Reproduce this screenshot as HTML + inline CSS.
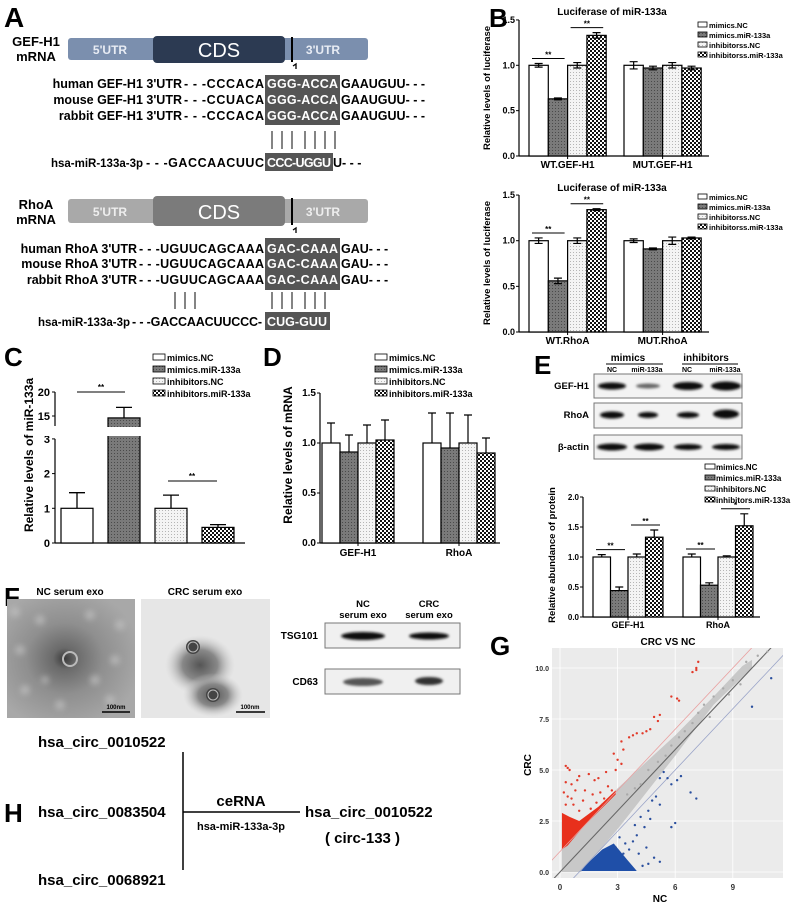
<!DOCTYPE html>
<html><head><meta charset="utf-8">
<style>
html,body{margin:0;padding:0;background:#fff;}
svg{display:block;font-family:"Liberation Sans",Arial,sans-serif;font-weight:bold;}
</style></head>
<body>
<svg id="fig" width="793" height="904" viewBox="0 0 793 904" xmlns="http://www.w3.org/2000/svg">
<defs>
  <pattern id="pDark" width="3" height="3" patternUnits="userSpaceOnUse"><rect width="3" height="3" fill="#7a7a7a"/><rect width="1" height="1" fill="#4a4a4a"/></pattern>
  <pattern id="pLight" width="3" height="3" patternUnits="userSpaceOnUse"><rect width="3" height="3" fill="#f4f4f4"/><rect width="1" height="1" fill="#b5b5b5"/></pattern>
  <pattern id="pCheck" width="4" height="4" patternUnits="userSpaceOnUse"><rect width="4" height="4" fill="#fff"/><rect width="2" height="2" fill="#111"/><rect x="2" y="2" width="2" height="2" fill="#111"/></pattern>
  <radialGradient id="gNC" cx="0.45" cy="0.5" r="0.6"><stop offset="0" stop-color="#3a3a3a"/><stop offset="0.15" stop-color="#6a6a6a"/><stop offset="0.5" stop-color="#8f8f8f"/><stop offset="1" stop-color="#a8a8a8"/></radialGradient>
  <radialGradient id="gBlob" cx="0.5" cy="0.5" r="0.5"><stop offset="0" stop-color="#555"/><stop offset="0.5" stop-color="#888"/><stop offset="1" stop-color="#ccc" stop-opacity="0"/></radialGradient>
  <filter id="blur1"><feGaussianBlur stdDeviation="1.2"/></filter>
  <filter id="blur3"><feGaussianBlur stdDeviation="3"/></filter>
  <clipPath id="clipG"><rect x="552" y="648" width="231" height="230"/></clipPath>
</defs>

<!-- ===== Panel A ===== -->
<g>
  <text x="4" y="27" font-size="28">A</text>
  <text x="36" y="46" font-size="13" text-anchor="middle">GEF-H1</text>
  <text x="36" y="61" font-size="13" text-anchor="middle">mRNA</text>
  <rect x="68" y="38" width="300" height="22" rx="3" fill="#7b8fae"/>
  <rect x="153" y="36" width="132" height="27" rx="4" fill="#2c3a52"/>
  <text x="110" y="54" font-size="12" fill="#e8ecf4" text-anchor="middle">5'UTR</text>
  <text x="219" y="57" font-size="20" font-weight="normal" fill="#fff" text-anchor="middle">CDS</text>
  <text x="323" y="54" font-size="12" fill="#e8ecf4" text-anchor="middle">3'UTR</text>
  <rect x="291" y="37" width="2" height="25" fill="#000"/>
  <path d="M293 66 l3 -2 l0 5" stroke="#000" stroke-width="1.3" fill="none"/>

  <rect x="265" y="75" width="75" height="50" fill="#555"/>
  <g font-size="12.5">
    <text x="182" y="88" text-anchor="end">human GEF-H1 3'UTR</text>
    <text x="184" y="88" textLength="80">- - -CCCACA</text>
    <text x="267" y="88" fill="#fff" textLength="71">GGG-ACCA</text>
    <text x="341" y="88">GAAUGUU- - -</text>
    <text x="182" y="104" text-anchor="end">mouse GEF-H1 3'UTR</text>
    <text x="184" y="104" textLength="80">- - -CCUACA</text>
    <text x="267" y="104" fill="#fff" textLength="71">GGG-ACCA</text>
    <text x="341" y="104">GAAUGUU- - -</text>
    <text x="182" y="120" text-anchor="end">rabbit GEF-H1 3'UTR</text>
    <text x="184" y="120" textLength="80">- - -CCCACA</text>
    <text x="267" y="120" fill="#fff" textLength="71">GGG-ACCA</text>
    <text x="341" y="120">GAAUGUU- - -</text>
  </g>
  <g stroke="#333" stroke-width="1.2">
    <line x1="272" y1="131" x2="272" y2="149"/><line x1="282" y1="131" x2="282" y2="149"/><line x1="292" y1="131" x2="292" y2="149"/>
    <line x1="305" y1="131" x2="305" y2="149"/><line x1="315" y1="131" x2="315" y2="149"/><line x1="325" y1="131" x2="325" y2="149"/><line x1="335" y1="131" x2="335" y2="149"/>
  </g>
  <rect x="265" y="153" width="68" height="18" fill="#555"/>
  <g font-size="12.5">
    <text x="143" y="167" text-anchor="end" font-size="11.5">hsa-miR-133a-3p</text>
    <text x="146" y="167" textLength="118">- - -GACCAACUUC</text>
    <text x="267" y="167" fill="#fff" textLength="64">CCC-UGGU</text>
    <text x="333" y="167">U- - -</text>
  </g>

  <text x="36" y="209" font-size="13" text-anchor="middle">RhoA</text>
  <text x="36" y="224" font-size="13" text-anchor="middle">mRNA</text>
  <rect x="68" y="199" width="300" height="24" rx="3" fill="#a9a9a9"/>
  <rect x="153" y="196" width="132" height="30" rx="4" fill="#7b7b7b"/>
  <text x="110" y="216" font-size="12" fill="#eee" text-anchor="middle">5'UTR</text>
  <text x="219" y="219" font-size="20" font-weight="normal" fill="#fff" text-anchor="middle">CDS</text>
  <text x="323" y="216" font-size="12" fill="#eee" text-anchor="middle">3'UTR</text>
  <rect x="291" y="198" width="2" height="27" fill="#000"/>
  <path d="M293 230 l3 -2 l0 5" stroke="#000" stroke-width="1.3" fill="none"/>

  <rect x="265" y="238" width="75" height="52" fill="#555"/>
  <g font-size="12.5">
    <text x="137" y="253" text-anchor="end">human RhoA 3'UTR</text>
    <text x="139" y="253" textLength="125">- - -UGUUCAGCAAA</text>
    <text x="267" y="253" fill="#fff" textLength="71">GAC-CAAA</text>
    <text x="341" y="253">GAU- - -</text>
    <text x="137" y="268" text-anchor="end">mouse RhoA 3'UTR</text>
    <text x="139" y="268" textLength="125">- - -UGUUCAGCAAA</text>
    <text x="267" y="268" fill="#fff" textLength="71">GAC-CAAA</text>
    <text x="341" y="268">GAU- - -</text>
    <text x="137" y="284" text-anchor="end">rabbit RhoA 3'UTR</text>
    <text x="139" y="284" textLength="125">- - -UGUUCAGCAAA</text>
    <text x="267" y="284" fill="#fff" textLength="71">GAC-CAAA</text>
    <text x="341" y="284">GAU- - -</text>
  </g>
  <g stroke="#333" stroke-width="1.2">
    <line x1="175" y1="292" x2="175" y2="309"/><line x1="185" y1="292" x2="185" y2="309"/><line x1="195" y1="292" x2="195" y2="309"/>
    <line x1="272" y1="292" x2="272" y2="309"/><line x1="282" y1="292" x2="282" y2="309"/><line x1="292" y1="292" x2="292" y2="309"/>
    <line x1="305" y1="292" x2="305" y2="309"/><line x1="315" y1="292" x2="315" y2="309"/><line x1="325" y1="292" x2="325" y2="309"/>
  </g>
  <rect x="265" y="312" width="65" height="18" fill="#555"/>
  <g font-size="12.5">
    <text x="130" y="326" text-anchor="end" font-size="11.5">hsa-miR-133a-3p</text>
    <text x="132" y="326" textLength="130">- - -GACCAACUUCCC-</text>
    <text x="267" y="326" fill="#fff" textLength="60">CUG-GUU</text>
  </g>
</g>

<!-- ===== Panel letters / titles ===== -->
<text x="489" y="27" font-size="26">B</text>
<text x="4" y="366" font-size="26">C</text>
<text x="263" y="366" font-size="26">D</text>
<text x="534" y="374" font-size="26">E</text>
<text x="4" y="606" font-size="26">F</text>
<text x="490" y="655" font-size="26">G</text>
<text x="4" y="822" font-size="26">H</text>

<text x="612" y="15" font-size="10" text-anchor="middle">Luciferase of miR-133a</text>
<text x="612" y="191" font-size="10" text-anchor="middle">Luciferase of miR-133a</text>
<text transform="translate(490,88) rotate(-90)" font-size="9.5" text-anchor="middle">Relative levels of luciferase</text>
<text transform="translate(490,263) rotate(-90)" font-size="9.5" text-anchor="middle">Relative levels of luciferase</text>
<text transform="translate(33,455) rotate(-90)" font-size="12" text-anchor="middle">Relative levels of miR-133a</text>
<text transform="translate(292,455) rotate(-90)" font-size="12" text-anchor="middle">Relative levels of mRNA</text>
<text transform="translate(555,555) rotate(-90)" font-size="9.5" text-anchor="middle">Relative abundance of protein</text>

<!-- Legends -->
<g font-size="7.5">
  <rect x="698" y="22" width="9" height="5" fill="#fff" stroke="#000" stroke-width="0.8"/><text x="709" y="28">mimics.NC</text>
  <rect x="698" y="32" width="9" height="5" fill="url(#pDark)" stroke="#000" stroke-width="0.8"/><text x="709" y="38">mimics.miR-133a</text>
  <rect x="698" y="42" width="9" height="5" fill="url(#pLight)" stroke="#000" stroke-width="0.8"/><text x="709" y="48">inhibitorss.NC</text>
  <rect x="698" y="52" width="9" height="5" fill="url(#pCheck)" stroke="#000" stroke-width="0.8"/><text x="709" y="58">inhibitorss.miR-133a</text>
</g>
<g font-size="7.5">
  <rect x="698" y="194" width="9" height="5" fill="#fff" stroke="#000" stroke-width="0.8"/><text x="709" y="200">mimics.NC</text>
  <rect x="698" y="204" width="9" height="5" fill="url(#pDark)" stroke="#000" stroke-width="0.8"/><text x="709" y="210">mimics.miR-133a</text>
  <rect x="698" y="214" width="9" height="5" fill="url(#pLight)" stroke="#000" stroke-width="0.8"/><text x="709" y="220">inhibitorss.NC</text>
  <rect x="698" y="224" width="9" height="5" fill="url(#pCheck)" stroke="#000" stroke-width="0.8"/><text x="709" y="230">inhibitorss.miR-133a</text>
</g>
<g font-size="9">
  <rect x="153" y="354" width="12" height="6" fill="#fff" stroke="#000" stroke-width="0.8"/><text x="167" y="361">mimics.NC</text>
  <rect x="153" y="366" width="12" height="6" fill="url(#pDark)" stroke="#000" stroke-width="0.8"/><text x="167" y="373">mimics.miR-133a</text>
  <rect x="153" y="378" width="12" height="6" fill="url(#pLight)" stroke="#000" stroke-width="0.8"/><text x="167" y="385">inhibitors.NC</text>
  <rect x="153" y="390" width="12" height="6" fill="url(#pCheck)" stroke="#000" stroke-width="0.8"/><text x="167" y="397">inhibitors.miR-133a</text>
</g>
<g font-size="9">
  <rect x="375" y="354" width="12" height="6" fill="#fff" stroke="#000" stroke-width="0.8"/><text x="389" y="361">mimics.NC</text>
  <rect x="375" y="366" width="12" height="6" fill="url(#pDark)" stroke="#000" stroke-width="0.8"/><text x="389" y="373">mimics.miR-133a</text>
  <rect x="375" y="378" width="12" height="6" fill="url(#pLight)" stroke="#000" stroke-width="0.8"/><text x="389" y="385">inhibitors.NC</text>
  <rect x="375" y="390" width="12" height="6" fill="url(#pCheck)" stroke="#000" stroke-width="0.8"/><text x="389" y="397">inhibitors.miR-133a</text>
</g>
<g font-size="8">
  <rect x="705" y="464" width="10" height="5" fill="#fff" stroke="#000" stroke-width="0.8"/><text x="716" y="470">mimics.NC</text>
  <rect x="705" y="475" width="10" height="5" fill="url(#pDark)" stroke="#000" stroke-width="0.8"/><text x="716" y="481">mimics.miR-133a</text>
  <rect x="705" y="486" width="10" height="5" fill="url(#pLight)" stroke="#000" stroke-width="0.8"/><text x="716" y="492">inhibitors.NC</text>
  <rect x="705" y="497" width="10" height="5" fill="url(#pCheck)" stroke="#000" stroke-width="0.8"/><text x="716" y="503">inhibitors.miR-133a</text>
</g>

<!-- E blots -->
<g>
  <text x="628" y="361" font-size="10" text-anchor="middle">mimics</text>
  <line x1="606" y1="364" x2="663" y2="364" stroke="#000" stroke-width="1"/>
  <text x="706" y="361" font-size="10" text-anchor="middle">inhibitors</text>
  <line x1="682" y1="364" x2="738" y2="364" stroke="#000" stroke-width="1"/>
  <g font-size="7" text-anchor="middle">
    <text x="612" y="372">NC</text><text x="647" y="372">miR-133a</text><text x="687" y="372">NC</text><text x="725" y="372">miR-133a</text>
  </g>
  <g font-size="9.5" text-anchor="end">
    <text x="589" y="389">GEF-H1</text>
    <text x="589" y="418">RhoA</text>
    <text x="589" y="450">β-actin</text>
  </g>
  <rect x="594" y="374" width="148" height="24" fill="#f3f3f3" stroke="#777"/>
  <rect x="594" y="403" width="148" height="25" fill="#f3f3f3" stroke="#777"/>
  <rect x="594" y="435" width="148" height="24" fill="#f3f3f3" stroke="#777"/>
  <g filter="url(#blur1)" fill="#111">
    <ellipse cx="612" cy="386" rx="14" ry="3.5"/><ellipse cx="648" cy="386" rx="12" ry="2.5" fill="#666"/><ellipse cx="688" cy="386" rx="15" ry="4"/><ellipse cx="726" cy="386" rx="15" ry="4.5"/>
    <ellipse cx="612" cy="415" rx="12" ry="3.5"/><ellipse cx="648" cy="415" rx="10" ry="3"/><ellipse cx="688" cy="415" rx="11" ry="3"/><ellipse cx="726" cy="414" rx="13" ry="4.5"/>
    <ellipse cx="612" cy="447" rx="15" ry="3.5"/><ellipse cx="649" cy="447" rx="15" ry="3.5"/><ellipse cx="688" cy="447" rx="14" ry="3"/><ellipse cx="726" cy="447" rx="14" ry="3"/>
  </g>
</g>

<!-- F images -->
<g>
  <text x="70" y="595" font-size="10" text-anchor="middle">NC serum exo</text>
  <text x="205" y="595" font-size="10" text-anchor="middle">CRC  serum exo</text>
  <g>
    <rect x="7" y="599" width="128" height="119" fill="url(#gNC)"/>
    <g fill="#c4c4c4" opacity="0.6" filter="url(#blur3)">
      <circle cx="15" cy="612" r="5"/><circle cx="40" cy="620" r="5"/><circle cx="90" cy="615" r="5"/><circle cx="120" cy="625" r="5"/><circle cx="20" cy="650" r="5"/><circle cx="115" cy="660" r="5"/><circle cx="25" cy="690" r="5"/><circle cx="60" cy="705" r="5"/><circle cx="110" cy="700" r="5"/><circle cx="95" cy="680" r="5"/><circle cx="45" cy="680" r="4"/>
    </g>
    <circle cx="70" cy="659" r="7" fill="none" stroke="#bbb" stroke-width="2"/>
    <line x1="102" y1="712" x2="130" y2="712" stroke="#000" stroke-width="1.5"/>
    <text x="116" y="709" font-size="6" text-anchor="middle">100nm</text>
  </g>
  <g>
    <rect x="141" y="599" width="129" height="119" fill="#e6e6e6"/>
    <ellipse cx="200" cy="665" rx="35" ry="30" fill="url(#gBlob)"/>
    <ellipse cx="213" cy="695" rx="30" ry="22" fill="url(#gBlob)"/>
    <circle cx="193" cy="647" r="7" fill="#444"/><circle cx="193" cy="647" r="5" fill="none" stroke="#bbb"/>
    <circle cx="213" cy="695" r="7" fill="#444"/><circle cx="213" cy="695" r="5" fill="none" stroke="#bbb"/>
    <line x1="236" y1="712" x2="265" y2="712" stroke="#000" stroke-width="1.5"/>
    <text x="250" y="709" font-size="6" text-anchor="middle">100nm</text>
  </g>
  <g font-size="9.5" text-anchor="middle" font-weight="normal">
    <text x="363" y="607" font-weight="bold">NC</text><text x="363" y="618" font-weight="bold">serum exo</text>
    <text x="429" y="607" font-weight="bold">CRC</text><text x="429" y="618" font-weight="bold">serum exo</text>
  </g>
  <text x="318" y="639" font-size="10" text-anchor="end">TSG101</text>
  <text x="318" y="685" font-size="10" text-anchor="end">CD63</text>
  <rect x="325" y="623" width="135" height="25" fill="#f0f0f0" stroke="#777"/>
  <rect x="325" y="669" width="135" height="25" fill="#f0f0f0" stroke="#777"/>
  <g filter="url(#blur1)" fill="#111">
    <ellipse cx="363" cy="636" rx="22" ry="4"/><ellipse cx="429" cy="636" rx="20" ry="3.5"/>
    <ellipse cx="363" cy="682" rx="20" ry="4" fill="#555"/><ellipse cx="429" cy="681" rx="14" ry="4" fill="#333"/>
  </g>
</g>

<!-- H -->
<g font-size="15">
  <text x="38" y="747">hsa_circ_0010522</text>
  <text x="38" y="817">hsa_circ_0083504</text>
  <text x="38" y="885">hsa_circ_0068921</text>
  <line x1="183" y1="752" x2="183" y2="870" stroke="#000" stroke-width="1.5"/>
  <line x1="183" y1="812" x2="300" y2="812" stroke="#000" stroke-width="1.5"/>
  <text x="241" y="806" text-anchor="middle">ceRNA</text>
  <text x="241" y="830" font-size="11" text-anchor="middle">hsa-miR-133a-3p</text>
  <text x="305" y="817">hsa_circ_0010522</text>
  <text x="325" y="843">( circ-133 )</text>
</g>

<!-- G static -->
<text x="668" y="645" font-size="10" text-anchor="middle">CRC VS  NC</text>
<text transform="translate(531,765) rotate(-90)" font-size="10" text-anchor="middle">CRC</text>
<text x="660" y="902" font-size="10" text-anchor="middle">NC</text>

<g id="charts"></g>
</svg>

<script>
// ---------------- DATA ----------------
const groupFills = ['#fff','url(#pDark)','url(#pLight)','url(#pCheck)'];
// Panel B top
const bTopCats = ['WT.GEF-H1','MUT.GEF-H1'];
const bTopVals = [[1.0,0.63,1.0,1.33],[1.0,0.97,1.0,0.97]];
const bTopErr  = [[0.02,0.01,0.03,0.03],[0.04,0.02,0.03,0.02]];
// Panel B bottom
const bBotCats = ['WT.RhoA','MUT.RhoA'];
const bBotVals = [[1.0,0.56,1.0,1.34],[1.0,0.91,1.0,1.03]];
const bBotErr  = [[0.03,0.03,0.03,0.01],[0.02,0.01,0.04,0.01]];
const bTicks = [0,0.5,1.0,1.5];
const bTickLabels = ['0.0','0.5','1.0','1.5'];
// Panel C
const cVals = [1.0,14.6,1.0,0.45];
const cErr  = [0.45,2.2,0.38,0.08];
const cLowTicks = [0,1,2,3];
const cHighTicks = [15,20];
// Panel D
const dCats = ['GEF-H1','RhoA'];
const dVals = [[1.0,0.91,1.0,1.03],[1.0,0.95,1.0,0.9]];
const dErr  = [[0.2,0.17,0.18,0.2],[0.3,0.35,0.28,0.15]];
const dTicks = [0,0.5,1.0,1.5];
const dTickLabels = ['0.0','0.5','1.0','1.5'];
// Panel E
const eCats = ['GEF-H1','RhoA'];
const eVals = [[1.0,0.44,1.0,1.33],[1.0,0.53,1.0,1.52]];
const eErr  = [[0.04,0.06,0.05,0.12],[0.05,0.04,0.02,0.2]];
const eTicks = [0,0.5,1.0,1.5,2.0];
const eTickLabels = ['0.0','0.5','1.0','1.5','2.0'];
// Panel G scatter
const gXTicks = [0,3,6,9];
const gYTicks = [0,2.5,5.0,7.5,10.0];
const gYTickLabels = ['0.0','2.5','5.0','7.5','10.0'];
const greyBand = [[0.1,0],[0.1,1.2],[3,4.1],[6,6.7],[8,8.6],[9.5,10.1],[10,10.4],[10,10.0],[8,8.2],[6,5.7],[3,2.1],[1.1,0]];
const redCloud = [[0.1,1.1],[0.1,2.9],[0.5,2.7],[1.0,2.5],[2.0,3.2],[2.9,4.0],[2.9,3.8],[1.2,2.2],[0.4,1.3]];
const blueCloud = [[1.1,0.05],[4.0,0.05],[3.5,0.6],[2.8,1.4],[2.2,1.1],[1.4,0.4]];
const greyPts = [[10.3,10.6],[9.7,10.3],[9.4,9.2],[8.5,9.0],[8.0,8.6],[7.5,8.2],[7.2,7.8],[6.9,7.3],[6.5,6.9],[6.2,6.6],[5.8,6.2],[5.5,5.7],[5.1,5.4],[4.6,5.0],[4.2,4.3],[3.9,4.1],[3.5,3.8],[9.0,9.4],[8.8,8.7],[7.8,7.6],[10.8,10.8]];
const redPts = [[7.2,10.3],[7.1,10.0],[6.9,9.8],[7.1,9.9],[5.8,8.6],[6.1,8.5],[6.2,8.4],[4.9,7.6],[5.1,7.4],[5.2,7.7],[4.7,7.0],[4.5,6.9],[4.3,6.8],[4.0,6.8],[3.8,6.7],[3.6,6.6],[3.2,6.4],[3.3,6.0],[2.8,5.8],[3.0,5.5],[3.2,5.3],[2.9,5.0],[2.4,4.9],[2.0,4.6],[1.8,4.5],[1.5,4.8],[1.0,4.7],[0.9,4.5],[0.5,5.0],[0.3,5.2],[0.4,5.1],[0.6,4.3],[0.3,4.4],[0.8,4.0],[1.3,4.0],[1.7,3.8],[2.1,3.9],[2.5,4.2],[2.7,4.0],[2.3,3.6],[1.9,3.4],[1.2,3.5],[0.7,3.3],[0.4,3.7],[0.2,3.9],[1.6,3.1],[2.2,3.3],[1.0,3.0],[0.3,3.3],[0.6,3.6]];
const bluePts = [[10.0,8.1],[11.0,9.5],[7.1,3.6],[6.8,3.9],[6.3,4.7],[6.1,4.5],[5.8,4.3],[5.6,4.6],[5.4,4.9],[5.2,4.6],[6.0,2.4],[5.8,2.2],[5.2,3.3],[5.0,3.7],[4.8,3.5],[4.6,3.0],[4.2,2.7],[4.4,2.2],[4.0,1.8],[3.8,1.5],[4.5,1.2],[4.9,0.7],[5.2,0.5],[4.6,0.4],[4.1,0.9],[3.6,1.1],[3.4,1.4],[3.9,2.3],[3.1,1.7],[4.7,2.6],[4.3,0.3],[3.3,0.9],[2.9,1.2]];

// ---------------- HELPERS ----------------
const NS = 'http://www.w3.org/2000/svg';
const root = document.getElementById('charts');
function mk(parent, tag, attrs, text) {
  const e = document.createElementNS(NS, tag);
  for (const k in attrs) e.setAttribute(k, attrs[k]);
  if (text !== undefined) e.textContent = text;
  parent.appendChild(e);
  return e;
}

function barChart(name, cfg, cats, vals, errs, ticks, tickLabels, sigs) {
  const g = mk(root, 'g', {});
  
  
  const y = v => cfg.y0 - v * cfg.ppu;
  const yAxis = mk(g, 'line', {x1: cfg.x0, y1: cfg.y0, x2: cfg.x0, y2: y(ticks[ticks.length-1]), stroke: '#000', 'stroke-width': 1.2});
  
  
  const xAxis = mk(g, 'line', {x1: cfg.x0, y1: cfg.y0, x2: cfg.xEnd, y2: cfg.y0, stroke: '#000', 'stroke-width': 1.2});
  
  
  ticks.forEach((t, i) => {
    const tk = mk(g, 'line', {x1: cfg.x0 - 3, y1: y(t), x2: cfg.x0, y2: y(t), stroke: '#000', 'stroke-width': 1});
    
    
    const tl = mk(g, 'text', {x: cfg.x0 - 4, y: y(t) + 3, 'font-size': cfg.fs, 'text-anchor': 'end'}, tickLabels[i]);
    
    
  });
  cats.forEach((c, gi) => {
    const gx = cfg.groupStarts[gi];
    vals[gi].forEach((v, bi) => {
      const bx = gx + bi * cfg.bw;
      const bar = mk(g, 'rect', {x: bx, y: y(v), width: cfg.bw, height: cfg.y0 - y(v), fill: groupFills[bi], stroke: '#000', 'stroke-width': 1.2});
      
      
      const e = errs[gi][bi];
      const cx = bx + cfg.bw / 2;
      const eb = mk(g, 'path', {d: (cfg.bothErr ? `M${cx} ${y(v - e)}` : `M${cx} ${y(v)}`) + ` L${cx} ${y(v + e)} M${cx - 4} ${y(v + e)} L${cx + 4} ${y(v + e)}` + (cfg.bothErr ? ` M${cx - 4} ${y(v - e)} L${cx + 4} ${y(v - e)}` : ''), stroke: '#000', 'stroke-width': 1.2, fill: 'none'});
      
      
    });
    const lbl = mk(g, 'text', {x: gx + cfg.bw * 2, y: cfg.y0 + cfg.labelDy, 'font-size': cfg.catFs, 'text-anchor': 'middle'}, c);
    
    
    const tk = mk(g, 'line', {x1: gx + cfg.bw * 2, y1: cfg.y0, x2: gx + cfg.bw * 2, y2: cfg.y0 + 3, stroke: '#000'});
    
    
  });
  (sigs || []).forEach(s => {
    const gi = s[0], a = s[1], b = s[2], mark = s[3];
    const gx = cfg.groupStarts[gi];
    const top = Math.max(vals[gi][a] + errs[gi][a], vals[gi][b] + errs[gi][b]);
    const yy = y(top) - 5;
    const ln = mk(g, 'line', {x1: gx + a * cfg.bw + 3, y1: yy, x2: gx + (b + 1) * cfg.bw - 3, y2: yy, stroke: '#000', 'stroke-width': 1});
    
    
    const st = mk(g, 'text', {x: gx + (a + b + 1) * cfg.bw / 2, y: yy - 1, 'font-size': 8, 'text-anchor': 'middle'}, mark);
    
    
  });
}

barChart('chart-b-top', {x0: 519, xEnd: 709, y0: 156, ppu: 90.7, groupStarts: [529, 624], bw: 19.3, fs: 9, catFs: 10, labelDy: 12, bothErr: true},
  bTopCats, bTopVals, bTopErr, bTicks, bTickLabels, [[0,0,1,'**'],[0,2,3,'**']]);
barChart('chart-b-bottom', {x0: 519, xEnd: 709, y0: 332, ppu: 91.3, groupStarts: [529, 624], bw: 19.3, fs: 9, catFs: 10, labelDy: 12, bothErr: true},
  bBotCats, bBotVals, bBotErr, bTicks, bTickLabels, [[0,0,1,'**'],[0,2,3,'**']]);
barChart('chart-d', {x0: 320, xEnd: 500, y0: 543, ppu: 100, groupStarts: [322, 423], bw: 18, fs: 10, catFs: 10, labelDy: 13, bothErr: false},
  dCats, dVals, dErr, dTicks, dTickLabels, []);
barChart('chart-e', {x0: 583, xEnd: 760, y0: 617, ppu: 60, groupStarts: [593, 683], bw: 17.5, fs: 8, catFs: 9, labelDy: 11, bothErr: false},
  eCats, eVals, eErr, eTicks, eTickLabels, [[0,0,1,'**'],[0,2,3,'**'],[1,0,1,'**'],[1,2,3,'*']]);

// ---- Panel C (broken axis) ----
(function () {
  const g = mk(root, 'g', {});
  
  
  const yC = v => v <= 3 ? 543 - v * 34.7 : 416 - (v - 15) * 4.8;
  const x0 = 55, bw = 32, starts = [61, 108, 155, 202];
  const a1 = mk(g, 'line', {x1: x0, y1: 543, x2: x0, y2: yC(3), stroke: '#000', 'stroke-width': 1.2});
  
  
  const a2 = mk(g, 'line', {x1: x0, y1: 426, x2: x0, y2: yC(20), stroke: '#000', 'stroke-width': 1.2});
  
  
  const xa = mk(g, 'line', {x1: x0, y1: 543, x2: 245, y2: 543, stroke: '#000', 'stroke-width': 1.2});
  
  
  cLowTicks.concat(cHighTicks).forEach(t => {
    const tk = mk(g, 'line', {x1: x0 - 3, y1: yC(t), x2: x0, y2: yC(t), stroke: '#000'});
    
    
    const tl = mk(g, 'text', {x: x0 - 5, y: yC(t) + 4, 'font-size': 11, 'text-anchor': 'end'}, String(t));
    
    
  });
  cVals.forEach((v, i) => {
    const bar = mk(g, 'rect', {x: starts[i], y: yC(v), width: bw, height: 543 - yC(v), fill: groupFills[i], stroke: '#000', 'stroke-width': 1.2});
    
    
    const cx = starts[i] + bw / 2, top = yC(v + cErr[i]);
    const eb = mk(g, 'path', {d: `M${cx} ${yC(v)} L${cx} ${top} M${cx - 8} ${top} L${cx + 8} ${top}`, stroke: '#000', 'stroke-width': 1.3, fill: 'none'});
    
    
  });
  const brk = mk(g, 'rect', {x: 40, y: 427, width: 110, height: 9, fill: '#fff'});
  
  
  const s1 = mk(g, 'line', {x1: 77, y1: 392, x2: 125, y2: 392, stroke: '#000'});
  
  
  const s1t = mk(g, 'text', {x: 101, y: 390, 'font-size': 8, 'text-anchor': 'middle'}, '**');
  
  
  const s2 = mk(g, 'line', {x1: 168, y1: 481, x2: 217, y2: 481, stroke: '#000'});
  
  
  const s2t = mk(g, 'text', {x: 192, y: 479, 'font-size': 8, 'text-anchor': 'middle'}, '**');
  
  
})();

// ---- Panel G scatter ----
(function () {
  const xG = v => 560 + v * 19.2;
  const yG = v => 872 - v * 20.4;
  const g = mk(root, 'g', {});
  
  
  const bg = mk(g, 'rect', {x: 552, y: 648, width: 231, height: 230, fill: '#ebebeb'});
  
  
  gXTicks.forEach(t => {
    const gl = mk(g, 'line', {x1: xG(t), y1: 648, x2: xG(t), y2: 878, stroke: '#fff', 'stroke-width': 0.8});
    
    
    const tl = mk(g, 'text', {x: xG(t), y: 890, 'font-size': 8, 'text-anchor': 'middle', fill: '#333'}, String(t));
    
    
  });
  gYTicks.forEach((t, i) => {
    const gl = mk(g, 'line', {x1: 552, y1: yG(t), x2: 783, y2: yG(t), stroke: '#fff', 'stroke-width': 0.8});
    
    
    const tl = mk(g, 'text', {x: 549, y: yG(t) + 3, 'font-size': 7, 'text-anchor': 'end', fill: '#333'}, gYTickLabels[i]);
    
    
  });
  const clip = mk(g, 'g', {'clip-path': 'url(#clipG)'});
  
  
  const poly = (pts, fill, nm) => {
    const p = mk(clip, 'polygon', {points: pts.map(q => xG(q[0]) + ',' + yG(q[1])).join(' '), fill: fill});
    
    
  };
  poly(greyBand, '#c8c8c8', 'chart-g-grey-density');
  poly(redCloud, '#e8301c', 'chart-g-red-density');
  poly(blueCloud, '#1f4fa8', 'chart-g-blue-density');
  const diag = (off, col, w, nm) => {
    const l = mk(clip, 'line', {x1: xG(-2), y1: yG(-2 + off), x2: xG(13), y2: yG(13 + off), stroke: col, 'stroke-width': w});
    
    
  };
  diag(0, '#666', 1.1, 'chart-g-identity-line');
  diag(1, '#e9a0a0', 0.8, 'chart-g-upper-fold-line');
  diag(-1, '#9aa4c8', 0.8, 'chart-g-lower-fold-line');
  greyPts.forEach(p => {
    const c = mk(clip, 'circle', {cx: xG(p[0]), cy: yG(p[1]), r: 1.2, fill: '#aaa'});
    
    
  });
  redPts.forEach(p => {
    const c = mk(clip, 'circle', {cx: xG(p[0]), cy: yG(p[1]), r: 1.2, fill: '#e23a2a'});
    
    
  });
  bluePts.forEach(p => {
    const c = mk(clip, 'circle', {cx: xG(p[0]), cy: yG(p[1]), r: 1.2, fill: '#2a4f9e'});
    
    
  });
})();
</script>
</body></html>
